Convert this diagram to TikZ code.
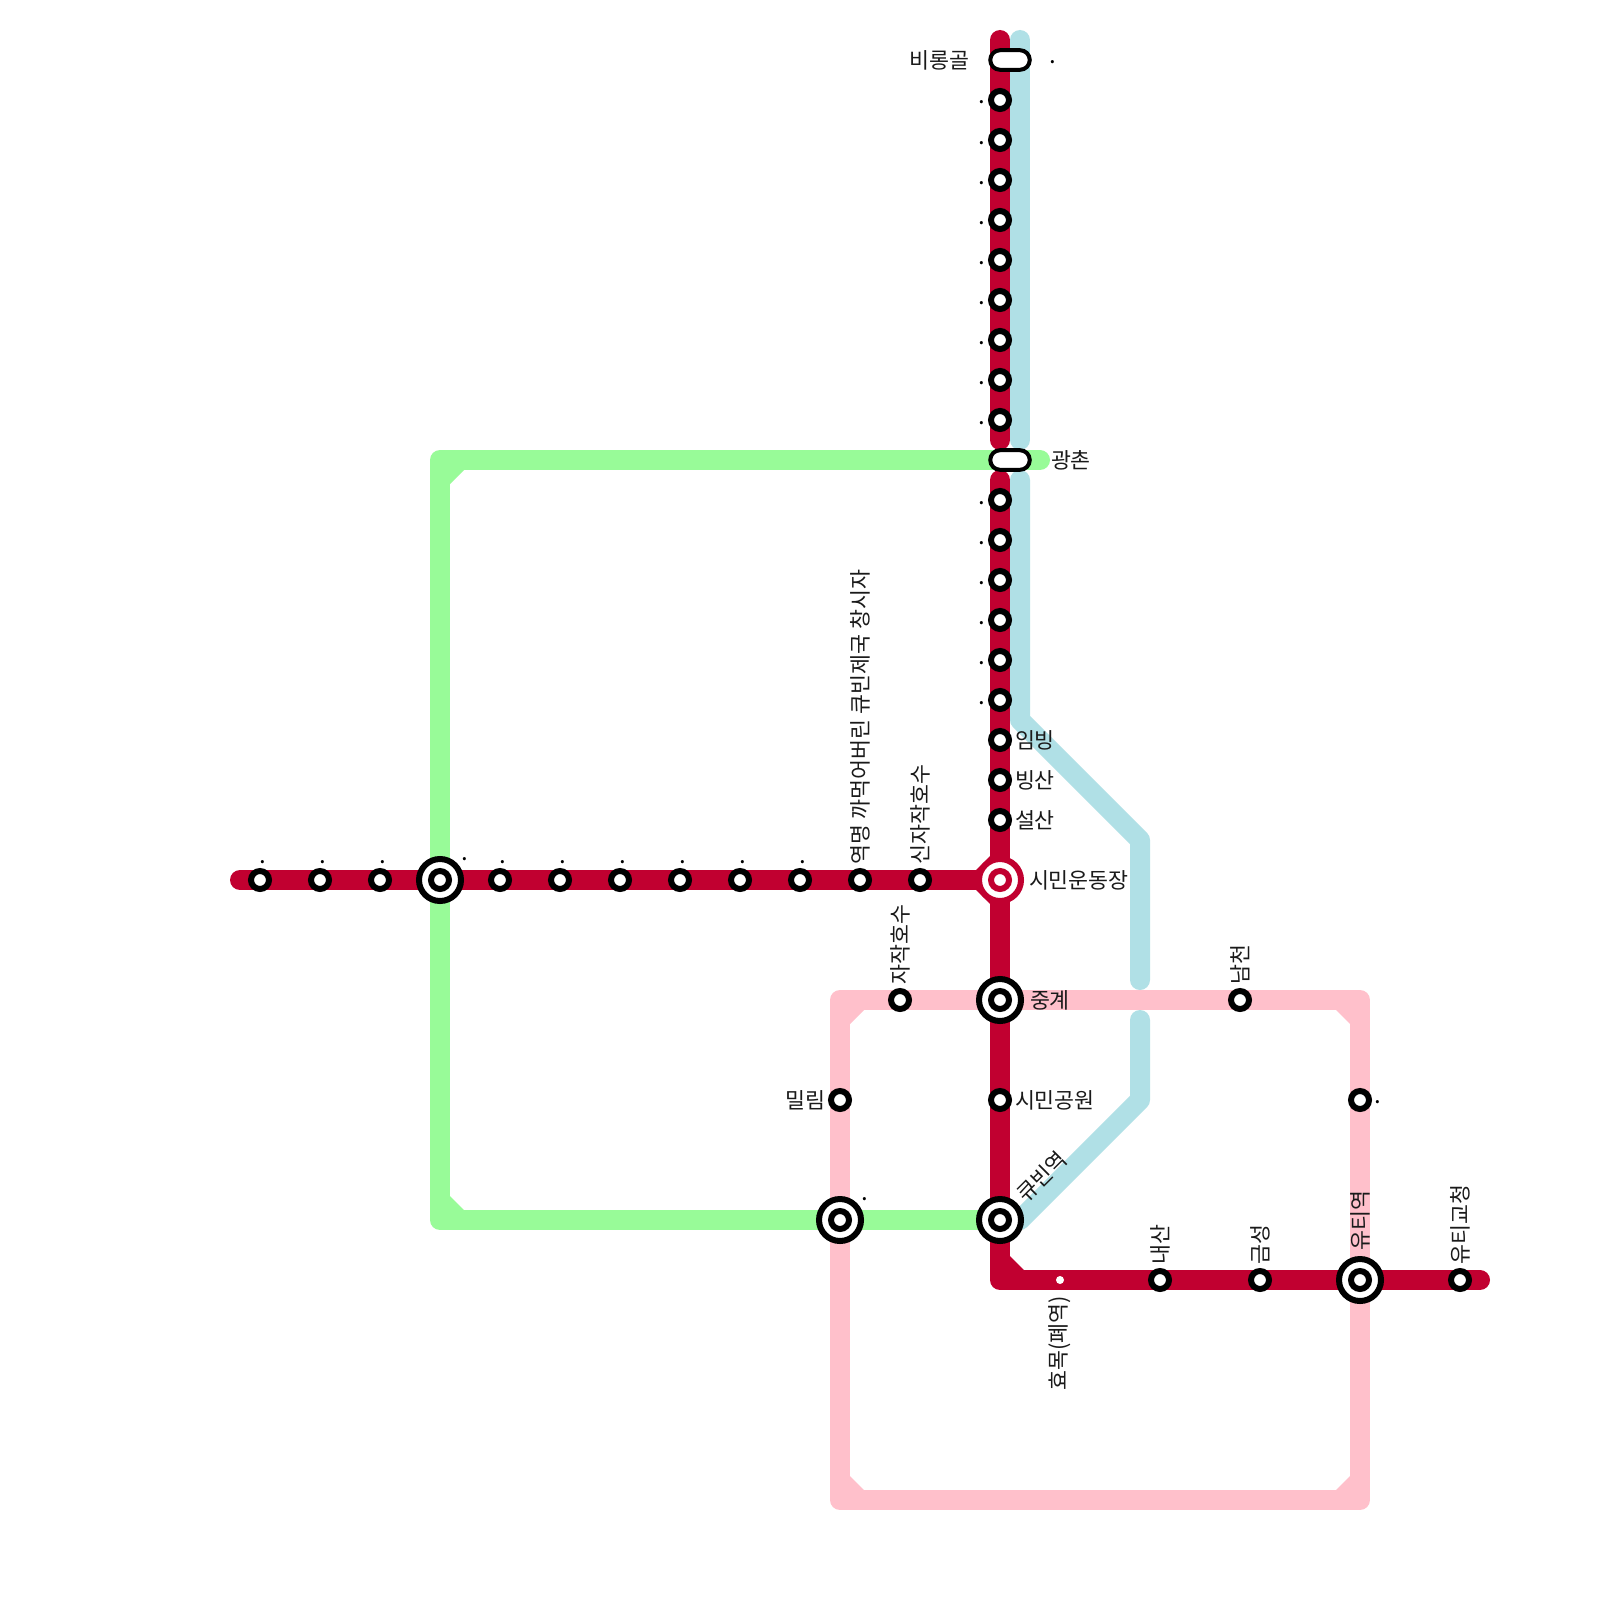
\documentclass[tikz,border=0pt]{standalone}
\usepackage{fontspec}
\setmainfont{Noto Sans CJK KR}
\definecolor{redline}{HTML}{C10030}
\definecolor{greenline}{HTML}{98FB98}
\definecolor{blueline}{HTML}{B0E0E6}
\definecolor{pinkline}{HTML}{FFC0CB}
\definecolor{txt}{HTML}{1A1A1A}
\tikzset{
  metro/.style={line width=20pt,line cap=round,line join=round},
  stn/.style={circle,draw=#1,fill=white,line width=6pt,minimum size=18pt,inner sep=0pt,outer sep=0pt},
  stn/.default=black,
  ringo/.style={circle,draw=#1,fill=white,line width=6pt,minimum size=42pt,inner sep=0pt,outer sep=0pt},
  ringo/.default=black,
  pill/.style={rectangle,rounded corners=9.8pt,draw=black,fill=white,line width=4pt,minimum width=39.5pt,minimum height=19.6pt,inner sep=0pt,outer sep=0pt},
  deadstn/.style={circle,fill=white,minimum size=8pt,inner sep=0pt,outer sep=0pt},
  lab/.style={font=\fontsize{21.7pt}{24pt}\selectfont,text=txt,inner sep=0pt,outer sep=0pt},
  labr/.style={lab,anchor=west},
  labl/.style={lab,anchor=east},
  labu/.style={lab,anchor=west,rotate=90},
  labd/.style={lab,anchor=east,rotate=90},
  dotl/.style={font=\fontsize{24pt}{26pt}\selectfont,text=black,inner sep=0pt,outer sep=0pt,anchor=base},
}
\newcommand{\cham}[7]{\fill[#1] (#2,#3) -- (#4,#5) -- (#6,#7) -- cycle;}
\begin{document}
\begin{tikzpicture}[x=1pt,y=-1pt]
\useasboundingbox (0,0) rectangle (1600,1600);
\fill[white] (0,0) rectangle (1600,1600);
% way points
\coordinate (rA) at (1000,40);  \coordinate (rB) at (1000,440);
\coordinate (rC) at (1000,480); \coordinate (rD) at (1000,1280); \coordinate (rE) at (1480,1280);
\coordinate (rF) at (240,880);  \coordinate (rG) at (1000,880);
\coordinate (bA) at (1020,40);  \coordinate (bB) at (1020,440);
\coordinate (bC) at (1020,480); \coordinate (bD) at (1020,720); \coordinate (bE) at (1140,840); \coordinate (bF) at (1140,980);
\coordinate (bG) at (1140,1020);\coordinate (bH) at (1140,1100);\coordinate (bI) at (1020,1220);
\coordinate (gA) at (1040,460); \coordinate (gB) at (440,460);  \coordinate (gC) at (440,1220); \coordinate (gD) at (1000,1220);
\coordinate (pA) at (840,1000); \coordinate (pB) at (1360,1000);\coordinate (pC) at (1360,1500);\coordinate (pD) at (840,1500);
% lines
\draw[metro,pinkline] (pA) -- (pB) -- (pC) -- (pD) -- cycle;
\cham{pinkline}{850}{1010}{864}{1010}{850}{1024}
\cham{pinkline}{1350}{1010}{1336}{1010}{1350}{1024}
\cham{pinkline}{850}{1490}{864}{1490}{850}{1476}
\cham{pinkline}{1350}{1490}{1336}{1490}{1350}{1476}
\draw[metro,greenline] (gA) -- (gB) -- (gC) -- (gD);
\cham{greenline}{450}{470}{464}{470}{450}{484}
\cham{greenline}{450}{1210}{464}{1210}{450}{1196}
\draw[metro,blueline] (bA) -- (bB);
\draw[metro,blueline] (bC) -- (bD) -- (bE) -- (bF);
\draw[metro,blueline] (bG) -- (bH) -- (bI);
\draw[metro,redline] (rA) -- (rB);
\draw[metro,redline] (rC) -- (rD) -- (rE);
\draw[metro,redline] (rF) -- (rG);
\cham{redline}{1010}{1270}{1024}{1270}{1010}{1256}
\cham{redline}{990}{870}{976}{870}{990}{856}
\cham{redline}{990}{890}{976}{890}{990}{904}
% pills
\node[pill] (biryong) at (1010,60) {};
\node[pill] (gwangchon) at (1010,460) {};
% vertical stations
\foreach \yy in {100,140,...,420,500,540,...,820,1100} \node[stn] (v\yy) at (1000,\yy) {};
% horizontal stations
\foreach \xx in {260,320,380,500,560,...,920} \node[stn] (h\xx) at (\xx,880) {};
\node[stn] (n900) at (900,1000) {};
\node[stn] (n1240) at (1240,1000) {};
\node[stn] (n840) at (840,1100) {};
\node[stn] (n1360) at (1360,1100) {};
\node[stn] (b1160) at (1160,1280) {};
\node[stn] (b1260) at (1260,1280) {};
\node[stn] (b1460) at (1460,1280) {};
\node[deadstn] (b1060) at (1060,1280) {};
% interchanges
\foreach \nm/\xx/\yy in {ia/440/880,ib/1000/1000,ic/1000/1220,id/840/1220,ie/1360/1280} {
  \node[ringo] (\nm) at (\xx,\yy) {};
  \node[stn] (\nm c) at (\xx,\yy) {};
}
\node[ringo=redline] (im) at (1000,880) {};
\node[stn=redline] (imc) at (1000,880) {};
% dots
\node[dotl] at (1052.7,64) {.};
\foreach \yy in {100,140,...,420,500,540,...,700} \node[dotl] at (981.7,\yy+4) {.};
\foreach \xx in {260,320,380,500,560,...,800} \node[dotl] at (\xx+3.3,863.4) {.};
\node[dotl] at (465,860) {.};
\node[dotl] at (865.3,1200.4) {.};
\node[dotl] at (1377.5,1103.4) {.};
% labels
\node[labl] at (969,60) {비롱골};
\node[labr] at (1051,460) {광촌};
\node[labr] at (1015,740) {임빙};
\node[labr] at (1015,780) {빙산};
\node[labr] at (1015,820) {설산};
\node[labr] at (1029,880) {시민운동장};
\node[labr] at (1030,1000) {중계};
\node[labr] at (1015,1100) {시민공원};
\node[labl] at (825,1100) {밀림};
\node[lab,rotate=45] at (1042,1177) {큐빈역};
\node[labu] at (860,864) {역명 까먹어버린 큐빈제국 창시자};
\node[labu] at (920,864) {신자작호수};
\node[labu] at (900,984) {자작호수};
\node[labu] at (1240,984) {남천};
\node[labu] at (1160,1264) {내산};
\node[labu] at (1260,1264) {금성};
\node[labu] at (1360,1250) {유티역};
\node[labu] at (1460,1264) {유티교청};
\node[labd] at (1060,1296) {효목(폐역)};
\end{tikzpicture}
\end{document}
